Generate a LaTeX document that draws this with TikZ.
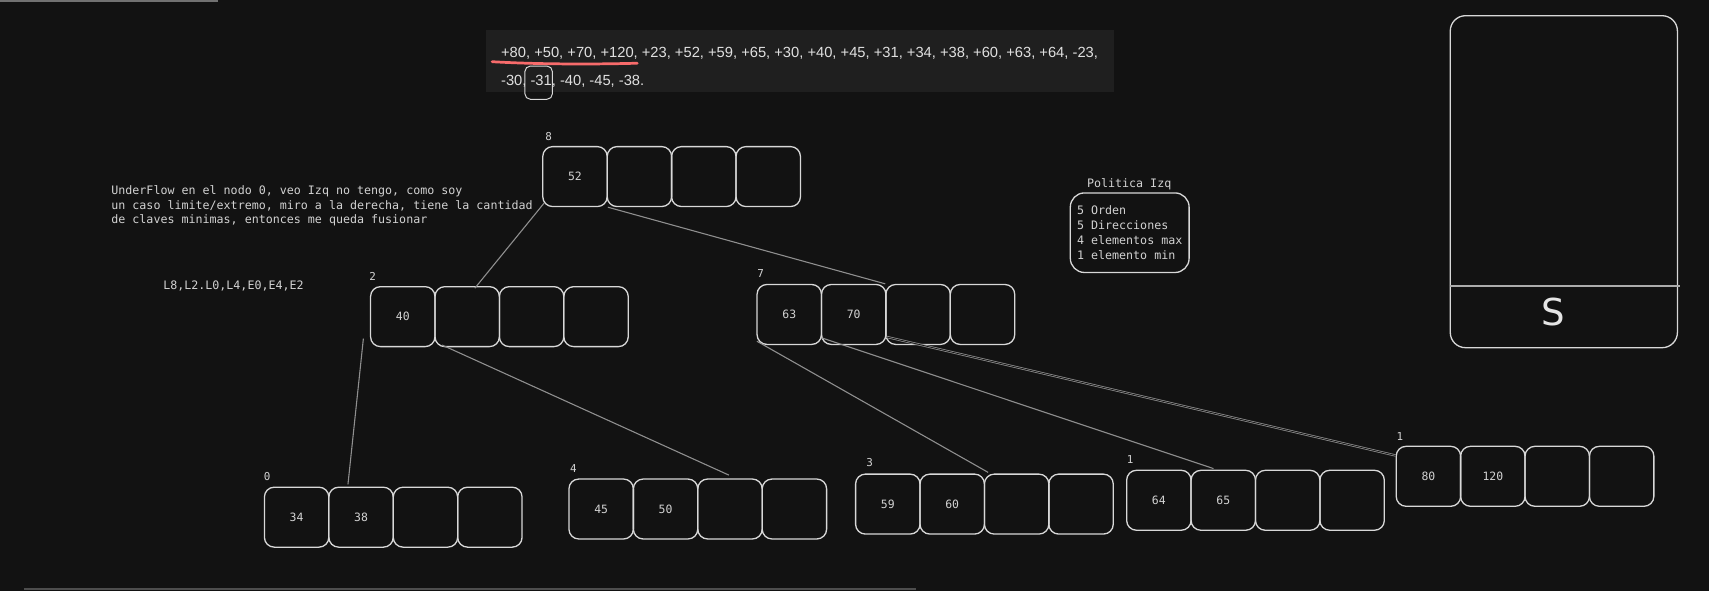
\documentclass[tikz,border=0pt]{standalone}
\usepackage{fontspec}
\usetikzlibrary{calc}
\newfontfamily\monof{DejaVu Sans Mono}
\newfontfamily\seqf{Liberation Sans}
\newfontfamily\letterf{DejaVu Sans}
\definecolor{bgc}{HTML}{121212}
\definecolor{seqbgc}{HTML}{1F1F1F}
\definecolor{strokec}{HTML}{D8D8D8}
\definecolor{txtc}{HTML}{D2D2D2}
\definecolor{connc}{HTML}{8F8F8F}
\definecolor{markc}{HTML}{F76B6B}
\tikzset{
  cell/.style={draw=strokec, line width=1.2pt, rounded corners=9pt, minimum width=59.1pt,
    minimum height=55pt, inner sep=0pt, text=txtc, font=\monof\fontsize{10.5}{12}\selectfont},
  lbl/.style={text=txtc, inner sep=0pt, font=\monof\fontsize{10}{12}\selectfont},
  monotext/.style={text=txtc, inner sep=0pt, align=left, font=\monof\fontsize{10.7}{13.5}\selectfont},
  seqtext/.style={text=white!88!black, inner sep=0pt, font=\seqf\fontsize{13.5}{16}\selectfont},
  link/.style={draw=connc, line width=1pt},
}
\newcommand\bnode[5]{%
  \node[cell] (#1a) at ({#2+29.55},#3) {#4};
  \node[cell] (#1b) at ({#2+88.65},#3) {#5};
  \node[cell] (#1c) at ({#2+147.75},#3) {};
  \node[cell] (#1d) at ({#2+206.85},#3) {};
}
\begin{document}
\begin{tikzpicture}[x=1pt,y=-1pt]
\fill[bgc] (0,0) rectangle (1568,542);
\useasboundingbox (0,0) rectangle (1568,542);
% faint window edges
\draw[color=white!40!bgc, line width=1.5pt] (0,0.8) -- (200,0.8);
\draw[color=white!25!bgc, line width=1.5pt] (22,540.5) -- (840,540.5);

% sequence box
\node[fill=seqbgc, minimum width=576.5pt, minimum height=56.5pt, inner sep=0pt] (seqbox) at (733.75,55.75) {};
\node[seqtext, anchor=base west] (seq1) at (459.6,52.5) {+80, +50, +70, +120, +23, +52, +59, +65, +30, +40, +45, +31, +34, +38, +60, +63, +64, -23,};
\node[seqtext, anchor=base west] (seq2) at (459.6,78.5) {-30, -31, -40, -45, -38.};
\draw[markc, line width=2.5pt, line cap=round] (451.5,56.6) .. controls (490,58.9) and (540,59.2) .. (584.7,58);
\node[draw=strokec, line width=0.9pt, rounded corners=5pt, minimum width=25.2pt, minimum height=30.5pt, inner sep=0pt] (box31) at (494.2,75.85) {};

% notes
\node[monotext, anchor=north west] (note) at (102,170) {UnderFlow en el nodo 0, veo Izq no tengo, como soy\\un caso limite/extremo, miro a la derecha, tiene la cantidad\\de claves minimas, entonces me queda fusionar};
\node[monotext, anchor=base west] (ops) at (149.6,265.5) {L8,L2.L0,L4,E0,E4,E2};

% politica
\node[monotext, anchor=base] (poltitle) at (1036,171.8) {Politica Izq};
\node[draw=strokec, line width=1.2pt, rounded corners=13pt, minimum width=109pt, minimum height=73pt, monotext] (pol) at (1036.5,213.5) {5 Orden\\5 Direcciones\\4 elementos max\\1 elemento min};

% S box
\node[draw=strokec, line width=1.2pt, rounded corners=14pt, minimum width=208.4pt, minimum height=304.6pt, inner sep=0pt] (sbox) at (1434.8,166.7) {};
\draw[color=white!65!bgc, line width=1.6pt] ([yshift=57.2pt]sbox.south west) -- ([xshift=1.5pt,yshift=57.2pt]sbox.south east);
\node[text=white!90!black, inner sep=0pt, font=\letterf\fontsize{34}{34}\selectfont] (sletter) at (1425,286) {S};

% B-tree nodes
\bnode{n8}{498}{162}{52}{}
\bnode{n2}{340}{290.5}{40}{}
\bnode{n7}{694.6}{288.5}{63}{70}
\bnode{n0}{242.6}{474.5}{34}{38}
\bnode{n4}{522}{467}{45}{50}
\bnode{n3}{785}{462.5}{59}{60}
\bnode{na}{1033.7}{459}{64}{65}
\bnode{nb}{1281}{437}{80}{120}

\node[lbl] (l8) at (503.3,125.4) {8};
\node[lbl] (l2) at (342,253.8) {2};
\node[lbl] (l7) at (698,251.4) {7};
\node[lbl] (l0) at (245,437) {0};
\node[lbl] (l4) at (526,429.5) {4};
\node[lbl] (l3) at (798,424) {3};
\node[lbl] (la) at (1037,422) {1};
\node[lbl] (lb) at (1284.5,400.6) {1};

% connectors
\draw[link] ($(n8a.south west)+(2,-4)$) -- ($(n2b.north)+(7,2)$);
\draw[link] (n8a.south east) -- (n7c.north west);
\draw[link] ($(n2a.south west)+(-6,-8)$) -- ($(n0b.north)+(-12,-2)$);
\draw[link] ($(n2a.south east)+(6,-2)$) -- ($(n4c.north)+(-1,-3)$);
\draw[link] ($(n7a.south west)+(0.5,-3.5)$) -- ($(n3c.north west)+(4,-1)$);
\draw[link] ($(n7a.south east)+(0,-6.5)$) -- ($(nab.north)+(-9,-1)$);
\draw[draw=connc, line width=0.7pt, double=bgc, double distance=0.7pt] ($(n7b.south east)+(0,-7.5)$) -- ($(nba.north west)+(0,9)$);
\end{tikzpicture}
\end{document}
